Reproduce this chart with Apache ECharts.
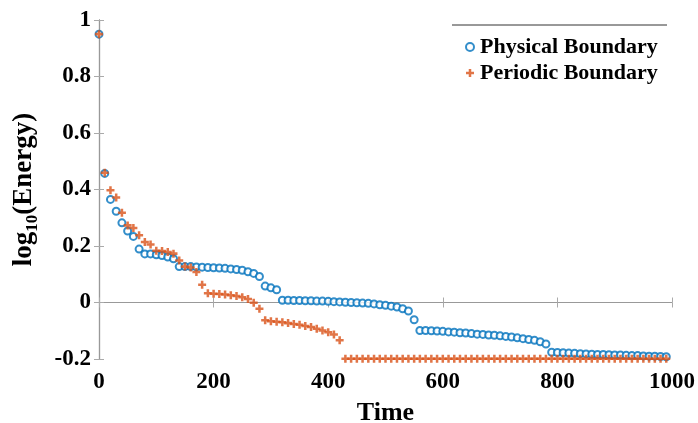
<!DOCTYPE html>
<html>
<head>
<meta charset="utf-8">
<script src="https://cdn.jsdelivr.net/npm/echarts@6/dist/echarts.min.js"></script>
<style>
  html, body { margin: 0; padding: 0; background: #fff; }
  #chart { width: 698px; height: 423px; }
</style>
</head>
<body>
<div id="chart"></div>
<script>
// sample times (every 10 units)
const TIME = [
  0, 10, 20, 30, 40, 50, 60, 70, 80, 90,
  100, 110, 120, 130, 140, 150, 160, 170, 180, 190,
  200, 210, 220, 230, 240, 250, 260, 270, 280, 290,
  300, 310, 320, 330, 340, 350, 360, 370, 380, 390,
  400, 410, 420, 430, 440, 450, 460, 470, 480, 490,
  500, 510, 520, 530, 540, 550, 560, 570, 580, 590,
  600, 610, 620, 630, 640, 650, 660, 670, 680, 690,
  700, 710, 720, 730, 740, 750, 760, 770, 780, 790,
  800, 810, 820, 830, 840, 850, 860, 870, 880, 890,
  900, 910, 920, 930, 940, 950, 960, 970, 980, 990
];

// log10(Energy), physical boundary
const PHYSICAL = [
  0.95, 0.457, 0.365, 0.323, 0.282, 0.253, 0.234, 0.189, 0.172, 0.172,
  0.169, 0.166, 0.161, 0.155, 0.127, 0.127, 0.127, 0.126, 0.125, 0.124,
  0.123, 0.122, 0.121, 0.119, 0.117, 0.114, 0.109, 0.103, 0.092, 0.058,
  0.052, 0.045, 0.008, 0.008, 0.007, 0.007, 0.006, 0.006, 0.005, 0.005,
  0.004, 0.003, 0.002, 0.001, 0.000, -0.001, -0.002, -0.003, -0.005, -0.008,
  -0.010, -0.013, -0.016, -0.022, -0.030, -0.061, -0.099, -0.099, -0.100, -0.101,
  -0.102, -0.104, -0.105, -0.107, -0.108, -0.110, -0.112, -0.113, -0.115, -0.116,
  -0.118, -0.120, -0.122, -0.125, -0.128, -0.131, -0.134, -0.139, -0.147, -0.176,
  -0.177, -0.178, -0.179, -0.180, -0.181, -0.182, -0.183, -0.184, -0.184, -0.185,
  -0.186, -0.186, -0.187, -0.188, -0.188, -0.189, -0.190, -0.190, -0.191, -0.192
];

// log10(Energy), periodic boundary
const PERIODIC = [
  0.95, 0.459, 0.397, 0.372, 0.318, 0.273, 0.264, 0.238, 0.214, 0.205,
  0.183, 0.182, 0.179, 0.173, 0.149, 0.127, 0.124, 0.108, 0.063, 0.033,
  0.031, 0.030, 0.028, 0.026, 0.023, 0.019, 0.012, -0.001, -0.022, -0.063,
  -0.066, -0.068, -0.070, -0.073, -0.076, -0.079, -0.083, -0.087, -0.093, -0.099,
  -0.105, -0.113, -0.134, -0.199, -0.199, -0.199, -0.199, -0.199, -0.199, -0.199,
  -0.199, -0.199, -0.199, -0.199, -0.199, -0.199, -0.199, -0.199, -0.199, -0.199,
  -0.199, -0.199, -0.199, -0.199, -0.199, -0.199, -0.199, -0.199, -0.199, -0.199,
  -0.199, -0.199, -0.199, -0.199, -0.199, -0.199, -0.199, -0.199, -0.199, -0.199,
  -0.199, -0.199, -0.199, -0.199, -0.199, -0.199, -0.199, -0.199, -0.199, -0.199,
  -0.199, -0.199, -0.199, -0.199, -0.199, -0.199, -0.199, -0.199, -0.199, -0.199
];

const SERIES_NAMES = ['Physical Boundary', 'Periodic Boundary'];

const FONT = 'Liberation Serif';
const BLUE = '#0072BD';
const ORANGE = '#D95319';
// plus marker, arms ~0.3 of the span
const PLUS = 'path://M2.4,0H4.6V2.4H7V4.6H4.6V7H2.4V4.6H0V2.4H2.4Z';

const bold = (size) => ({ color: '#000', fontFamily: FONT, fontWeight: 'bold', fontSize: size });
const tick = { show: true, inside: true, length: 5, lineStyle: { color: '#aaa', width: 1 } };
const pairs = (ys) => TIME.map((t, i) => [t, ys[i]]);

const chart = echarts.init(document.getElementById('chart'), null, { renderer: 'canvas' });

chart.setOption({
  animation: false,
  // fixed plot box; don't let v6 shrink it to fit the labels
  grid: { left: 99, right: 26, top: 20, bottom: 64, containLabel: false, outerBoundsMode: 'none' },
  legend: {
    orient: 'vertical', left: 460, top: 31, itemGap: 4,
    itemWidth: 10, itemHeight: 8,
    textStyle: bold(22),
    data: SERIES_NAMES,
  },
  graphic: [
    // legend box top edge (only edge visible in the original)
    { type: 'line', shape: { x1: 452, y1: 25, x2: 667, y2: 25 }, style: { stroke: '#333', lineWidth: 1 } },
  ],
  xAxis: [
    {
      type: 'value', min: 0, max: 1000, interval: 200,
      name: 'Time', nameLocation: 'middle', nameGap: 41, nameTextStyle: bold(26),
      axisLine: { lineStyle: { color: '#999', width: 1 } },
      axisTick: tick,
      axisLabel: { ...bold(23), margin: 12, formatter: (v) => String(v) },
      splitLine: { show: false },
    },
    {
      type: 'value', position: 'top', min: 0, max: 1000, interval: 200,
      axisLine: { show: false }, axisTick: tick,
      axisLabel: { show: false }, splitLine: { show: false },
    },
  ],
  yAxis: [
    {
      type: 'value', min: -0.2, max: 1, interval: 0.2,
      name: '{a|log}{b|10}{a|(Energy)}', nameLocation: 'middle', nameRotate: 90, nameGap: 58,
      nameTextStyle: {
        rich: {
          a: { ...bold(27) },
          b: { ...bold(17), lineHeight: 34, verticalAlign: 'bottom' },
        },
      },
      axisLine: { show: true, lineStyle: { color: '#555', width: 1.2 } },
      axisTick: tick,
      axisLabel: { ...bold(23), margin: 8 },
      splitLine: { show: false },
    },
    {
      type: 'value', position: 'right', min: -0.2, max: 1, interval: 0.2,
      axisLine: { show: true, lineStyle: { color: '#999', width: 1 } },
      axisTick: tick, axisLabel: { show: false }, splitLine: { show: false },
    },
  ],
  series: [
    {
      name: SERIES_NAMES[0], type: 'scatter', data: pairs(PHYSICAL),
      symbol: 'emptyCircle', symbolSize: 7,
      itemStyle: { color: BLUE, borderColor: BLUE, borderWidth: 2.2 },
    },
    {
      name: SERIES_NAMES[1], type: 'scatter', data: pairs(PERIODIC),
      symbol: PLUS, symbolSize: 8,
      itemStyle: { color: ORANGE },
    },
  ],
});
</script>
</body>
</html>
